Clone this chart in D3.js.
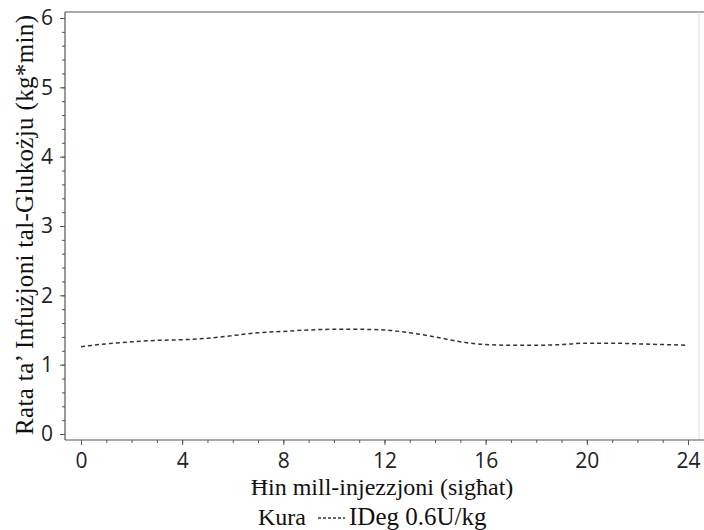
<!DOCTYPE html>
<html>
<head>
<meta charset="utf-8">
<script src="https://cdn.jsdelivr.net/npm/d3@7"></script>
<style>
  body { margin: 0; background: #fff; }
  .tick text { font-family: "Open Sans", sans-serif; font-size: 21px; fill: #222; }
  .title { font-family: "Liberation Serif", "Times New Roman", serif; font-size: 24px; fill: #111; }
</style>
</head>
<body>
<script>
const width = 704;
const height = 530;

// hours after injection and mean glucose infusion rate
const hours = [0, 1, 2, 3, 4, 5, 6, 7, 8, 9, 10, 11, 12,
  13, 14, 15, 16, 17, 18, 19, 20, 21, 22, 23, 24];
const gir = [1.26, 1.30, 1.33, 1.35, 1.36, 1.38, 1.42, 1.46, 1.48, 1.50, 1.51, 1.51, 1.50,
  1.46, 1.40, 1.33, 1.29, 1.28, 1.28, 1.29, 1.31, 1.31, 1.30, 1.29, 1.28];

const xTicks = [0, 4, 8, 12, 16, 20, 24];
const yTicks = [0, 1, 2, 3, 4, 5, 6];

const xTitle = "Ħin mill-injezzjoni (sigħat)";
const yTitle = "Rata ta’ Infużjoni tal-Glukożju (kg*min)";
const legendTitle = "Kura";
const seriesName = "IDeg 0.6U/kg";

// frame of the plot area
let frame = { left: 65, top: 12, right: 699, bottom: 440 };

let svg = d3
  .select("body")
  .append("svg")
  .attr("width", width)
  .attr("height", height);

let xScale = d3.scaleLinear().domain([0, 24]).range([81, 688]);
let yScale = d3.scaleLinear().domain([0, 6]).range([434, 18]);

// frame lines
svg.append("line")
  .attr("x1", frame.left).attr("x2", width)
  .attr("y1", frame.top).attr("y2", frame.top)
  .attr("stroke", "#555").attr("stroke-width", 1.2);
svg.append("line")
  .attr("x1", frame.right).attr("x2", frame.right)
  .attr("y1", frame.top).attr("y2", frame.bottom)
  .attr("stroke", "#ddd");
svg.append("line")
  .attr("x1", frame.left).attr("x2", frame.left)
  .attr("y1", frame.top).attr("y2", frame.bottom)
  .attr("stroke", "#555").attr("stroke-width", 1.2);
svg.append("line")
  .attr("x1", frame.left).attr("x2", width)
  .attr("y1", frame.bottom).attr("y2", frame.bottom)
  .attr("stroke", "#555").attr("stroke-width", 1.2);

// x axis: minor then major ticks
let xMinor = svg.append("g").attr("transform", `translate(0, ${frame.bottom})`);
d3.axisBottom(xScale).tickValues(d3.range(0, 25, 1)).tickSize(3).tickFormat("")(xMinor);
let xMajor = svg.append("g").attr("transform", `translate(0, ${frame.bottom})`);
d3.axisBottom(xScale).tickValues(xTicks).tickSize(5).tickPadding(8).tickFormat(d3.format("d"))(xMajor);

// y axis
let yMinor = svg.append("g").attr("transform", `translate(${frame.left}, 0)`);
d3.axisLeft(yScale).tickValues(d3.range(0, 30.5, 1).map((d) => d / 5)).tickSize(3).tickFormat("")(yMinor);
let yMajor = svg.append("g").attr("transform", `translate(${frame.left}, 0)`);
d3.axisLeft(yScale).tickValues(yTicks).tickSize(5).tickPadding(7).tickFormat(d3.format("d"))(yMajor);

svg.selectAll(".domain").remove();
svg.selectAll(".tick line").attr("stroke", "#555");

// the curve
let data = hours.map((h, i) => ({ h: h, v: gir[i] }));
let line = d3.line()
  .x((d) => xScale(d.h))
  .y((d) => yScale(d.v))
  .curve(d3.curveMonotoneX);

svg.append("path")
  .datum(data)
  .attr("d", line)
  .attr("fill", "none")
  .attr("stroke", "#333")
  .attr("stroke-width", 1.5)
  .attr("stroke-dasharray", "4,3");

// titles
svg.append("text")
  .attr("class", "title")
  .attr("x", 382)
  .attr("y", 495)
  .attr("text-anchor", "middle")
  .text(xTitle);

svg.append("text")
  .attr("class", "title")
  .attr("transform", `translate(33, 225) rotate(-90)`)
  .attr("text-anchor", "middle")
  .style("font-size", "25px")
  .attr("textLength", 420)
  .text(yTitle);

// legend
let legend = svg.append("g").attr("transform", "translate(0, 525)");
legend.append("text").attr("class", "title").attr("x", 258).text(legendTitle);
legend.append("line")
  .attr("x1", 318).attr("x2", 345)
  .attr("y1", -7).attr("y2", -7)
  .attr("stroke", "#333").attr("stroke-width", 1.3)
  .attr("stroke-dasharray", "3,2");
legend.append("text").attr("class", "title").attr("x", 349)
  .style("font-size", "25px").text(seriesName);
</script>
</body>
</html>
